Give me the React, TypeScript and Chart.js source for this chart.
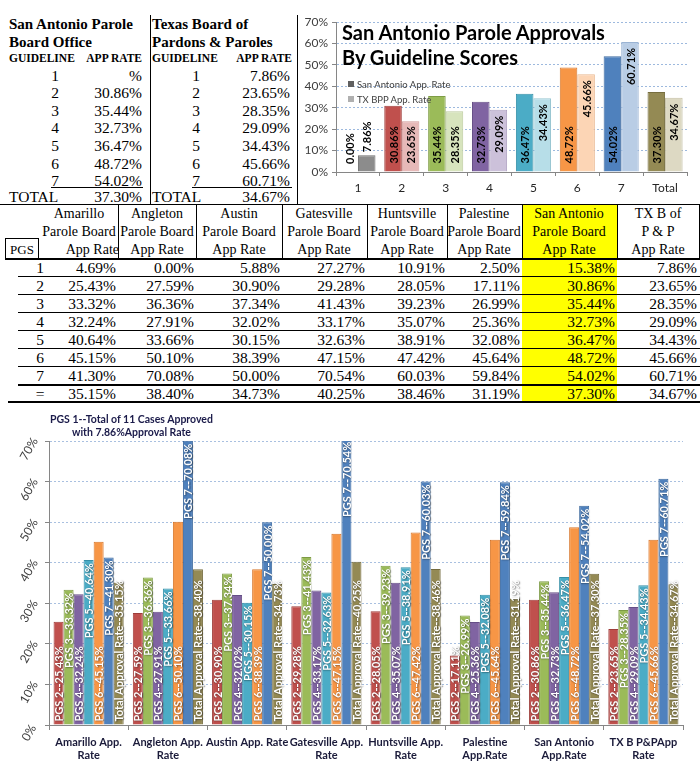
import React, { useEffect, useRef } from 'react';
import { Chart, registerables } from 'chart.js';
Chart.register(...registerables);

// ---------- DATA ----------
const guidelineNums = ['1', '2', '3', '4', '5', '6', '7'];
const saOfficeRates = ['%', '30.86%', '35.44%', '32.73%', '36.47%', '48.72%', '54.02%'];
const saOfficeTotal = '37.30%';
const txBoardRates = ['7.86%', '23.65%', '28.35%', '29.09%', '34.43%', '45.66%', '60.71%'];
const txBoardTotal = '34.67%';

const topCategories = ['1', '2', '3', '4', '5', '6', '7', 'Total'];
const topSanAntonio = [0.0, 30.86, 35.44, 32.73, 36.47, 48.72, 54.02, 37.3];
const topTxBpp = [7.86, 23.65, 28.35, 29.09, 34.43, 45.66, 60.71, 34.67];
const topTicks = [0, 10, 20, 30, 40, 50, 60, 70];

const pgsRowLabels = ['1', '2', '3', '4', '5', '6', '7', '='];
const headerLines = [
  ['Amarillo', 'Parole Board', 'App Rate'],
  ['Angleton', 'Parole Board', 'App Rate'],
  ['Austin', 'Parole Board', 'App Rate'],
  ['Gatesville', 'Parole Board', 'App Rate'],
  ['Huntsville', 'Parole Board', 'App Rate'],
  ['Palestine', 'Parole Board', 'App Rate'],
  ['San Antonio', 'Parole Board', 'App Rate'],
  ['TX B of', 'P & P', 'App Rate'],
];
// PGS 1..7 then total
const amarillo = [4.69, 25.43, 33.32, 32.24, 40.64, 45.15, 41.3, 35.15];
const angleton = [0.0, 27.59, 36.36, 27.91, 33.66, 50.1, 70.08, 38.4];
const austin = [5.88, 30.9, 37.34, 32.02, 30.15, 38.39, 50.0, 34.73];
const gatesville = [27.27, 29.28, 41.43, 33.17, 32.63, 47.15, 70.54, 40.25];
const huntsville = [10.91, 28.05, 39.23, 35.07, 38.91, 47.42, 60.03, 38.46];
const palestine = [2.5, 17.11, 26.99, 25.36, 32.08, 45.64, 59.84, 31.19];
const sanAntonio = [15.38, 30.86, 35.44, 32.73, 36.47, 48.72, 54.02, 37.3];
const txBpp = [7.86, 23.65, 28.35, 29.09, 34.43, 45.66, 60.71, 34.67];
const boards = [amarillo, angleton, austin, gatesville, huntsville, palestine, sanAntonio, txBpp];

const bottomCategories = [
  ['Amarillo App.', 'Rate'],
  ['Angleton App.', 'Rate'],
  'Austin App. Rate',
  ['Gatesville App.', 'Rate'],
  ['Huntsville App.', 'Rate'],
  ['Palestine', 'App.Rate'],
  ['San Antonio', 'App.Rate'],
  ['TX B P&PApp', 'Rate'],
];
const bottomSeriesNames = ['PGS 2', 'PGS 3', 'PGS 4', 'PGS 5', 'PGS 6', 'PGS 7', 'Total Approval Rate'];
const bottomSeriesIndex = [1, 2, 3, 4, 5, 6, 7];
const bottomTicks = [0, 10, 20, 30, 40, 50, 60, 70];

// ---------- STYLE ----------
const SERIF = '"Liberation Serif", "Times New Roman", serif';
const SANS = 'Lato, "Open Sans", sans-serif';
const topDark = ['#7F7F7F', '#C0504D', '#9BBB59', '#8064A2', '#4BACC6', '#F79646', '#4F81BD', '#948A54'];
const topLight = ['#8C8C8C', '#E6B9B8', '#D7E4BD', '#CCC1DA', '#B7DEE8', '#FCD5B5', '#B9CDE5', '#DDD9C3'];
const topLightEdge = ['#6F6F6F', '#D09A99', '#BCCB9E', '#B0A2C2', '#98C6D2', '#E9B890', '#9AB3D3', '#C4BFA4'];
const topDarkEdge = ['#5F5F5F', '#A03E3B', '#7E9C45', '#664E86', '#3690A8', '#D8782E', '#3D6A9F', '#776E40'];
const bottomColors = ['#C0504D', '#9BBB59', '#8064A2', '#4BACC6', '#F79646', '#4F81BD', '#948A54'];
const bottomEdges = ['#9E3D3A', '#7D9B44', '#654E86', '#348FA7', '#D7772D', '#3C699E', '#756C3F'];

const fmt = (v: number) => v.toFixed(2) + '%';

// ---------- helpers ----------
type TxtProps = { x: number; y: number; align?: 'left' | 'right' | 'center'; size?: number; bold?: boolean; font?: string; color?: string; children: any };
const Txt = ({ x, y, align = 'left', size = 15, bold = false, font = SERIF, color = '#000', children }: TxtProps) => {
  const style: any = {
    position: 'absolute', top: y - size, height: size * 2, lineHeight: `${size * 2}px`,
    fontSize: size, fontWeight: bold ? 700 : 400, fontFamily: font, color, whiteSpace: 'nowrap',
  };
  if (align === 'left') style.left = x;
  else if (align === 'right') { style.left = x - 300; style.width = 300; style.textAlign = 'right'; }
  else { style.left = x - 150; style.width = 300; style.textAlign = 'center'; }
  return <div style={style}>{children}</div>;
};
const HLine = ({ x1, x2, y, t = 1 }: any) => (
  <div style={{ position: 'absolute', left: x1, top: y, width: x2 - x1, height: t, background: '#000' }} />
);
const VLine = ({ x, y1, y2, t = 1 }: any) => (
  <div style={{ position: 'absolute', left: x, top: y1, width: t, height: y2 - y1, background: '#000' }} />
);

// ---------- plugins ----------
const barLabelPlugin = {
  id: 'barLabels',
  afterDatasetsDraw(chart: any, _args: any, opts: any) {
    const { ctx } = chart;
    chart.data.datasets.forEach((ds: any, di: number) => {
      const meta = chart.getDatasetMeta(di);
      meta.data.forEach((bar: any, i: number) => {
        const v = ds.data[i];
        const text = opts.format(ds, di, v);
        const { x, y, base } = bar.getProps(['x', 'y', 'base'], true);
        ctx.save();
        ctx.font = opts.font;
        ctx.fillStyle = opts.color;
        if (opts.shadow) {
          ctx.shadowColor = opts.shadow;
          ctx.shadowBlur = 1.5;
          ctx.shadowOffsetX = 0.5;
          ctx.shadowOffsetY = 0.5;
        }
        const w = ctx.measureText(text).width;
        const mode = opts.anchor(di, v, base - y, w);
        let start: number;
        if (mode === 'base') start = base - opts.baseOffset;
        else if (mode === 'end') start = y + opts.endOffset + w;
        else start = y - 3;
        ctx.translate(x, start);
        ctx.rotate(-Math.PI / 2);
        ctx.textAlign = 'left';
        ctx.textBaseline = 'middle';
        ctx.fillText(text, 0, 1);
        ctx.restore();
      });
    });
  },
};

const rotatedYTicksPlugin = {
  id: 'rotY',
  afterDraw(chart: any) {
    const s = chart.scales.y;
    const ctx = chart.ctx;
    ctx.save();
    ctx.font = '12px Lato';
    ctx.fillStyle = '#404040';
    ctx.textAlign = 'center';
    ctx.textBaseline = 'middle';
    bottomTicks.forEach((t) => {
      const py = s.getPixelForValue(t);
      ctx.save();
      ctx.translate(29, py + 8);
      ctx.rotate(-Math.PI / 3);
      ctx.fillText(t + '%', 0, 0);
      ctx.restore();
    });
    ctx.restore();
  },
};

// ---------- charts ----------
const TopChart = () => {
  const ref = useRef<HTMLCanvasElement>(null);
  useEffect(() => {
    const chart = new Chart(ref.current as HTMLCanvasElement, {
      type: 'bar',
      data: {
        labels: topCategories,
        datasets: [
          { label: 'San Antonio App. Rate', data: topSanAntonio, backgroundColor: topDark, borderColor: topDarkEdge, borderWidth: 1, categoryPercentage: 0.8, barPercentage: 1 },
          { label: 'TX BPP App. Rate', data: topTxBpp, backgroundColor: topLight, borderColor: topLightEdge, borderWidth: 1, categoryPercentage: 0.8, barPercentage: 1 },
        ],
      },
      options: {
        animation: false,
        responsive: false,
        maintainAspectRatio: false,
        layout: { padding: { top: 22, right: 13, left: 0, bottom: 0 } },
        plugins: {
          legend: { display: false },
          tooltip: { enabled: false },
          barLabels: {
            font: 'bold 11px Lato',
            color: '#000',
            baseOffset: 8,
            endOffset: 6,
            format: (_ds: any, _di: number, v: number) => fmt(v),
            anchor: (di: number, v: number, h: number, w: number) => {
              if (di === 0) return 'base';
              if (h < w + 10) return 'outside';
              return v < 29 ? 'base' : 'end';
            },
          },
        } as any,
        scales: {
          x: {
            grid: { display: true, drawOnChartArea: false, tickLength: 4, color: '#868686', tickColor: '#868686' },
            border: { color: '#868686' },
            ticks: { font: { family: 'Lato', size: 12 }, color: '#262626', padding: 5, maxRotation: 0, minRotation: 0 },
            afterFit: (s: any) => { s.height = 28; },
          },
          y: {
            min: 0, max: 70,
            afterBuildTicks: (s: any) => { s.ticks = topTicks.map((v) => ({ value: v })); },
            ticks: { callback: (v: any) => v + '%', font: { family: 'Lato', size: 12 }, color: '#404040', padding: 4 },
            grid: { color: '#9DB9DE', tickLength: 4, tickColor: '#868686', tickBorderDash: [] } as any,
            border: { color: '#868686', dash: [2, 2] },
            afterFit: (s: any) => { s.width = 36; },
          },
        },
      },
      plugins: [barLabelPlugin],
    });
    return () => chart.destroy();
  }, []);
  return <canvas ref={ref} width={400} height={200} style={{ position: 'absolute', left: 300, top: 0, width: 400, height: 200 }} />;
};

const BottomChart = () => {
  const ref = useRef<HTMLCanvasElement>(null);
  useEffect(() => {
    const datasets = bottomSeriesIndex.map((idx, k) => ({
      label: bottomSeriesNames[k],
      data: boards.map((b) => b[idx]),
      backgroundColor: bottomColors[k],
      borderColor: bottomEdges[k],
      borderWidth: 1,
      categoryPercentage: 0.885,
      barPercentage: 1,
    }));
    const chart = new Chart(ref.current as HTMLCanvasElement, {
      type: 'bar',
      data: { labels: bottomCategories as any, datasets },
      options: {
        animation: false,
        responsive: false,
        maintainAspectRatio: false,
        layout: { padding: { top: 31, right: 17, left: 0, bottom: 0 } },
        plugins: {
          legend: { display: false },
          tooltip: { enabled: false },
          barLabels: {
            font: 'bold 11px Lato',
            color: '#FFFFFF',
            shadow: 'rgba(0,0,0,0.55)',
            baseOffset: 3,
            endOffset: 3,
            format: (ds: any, _di: number, v: number) => ds.label + '--' + fmt(v),
            anchor: (di: number) => (di === 1 || di === 3 || di === 5 ? 'end' : 'base'),
          },
        } as any,
        scales: {
          x: {
            grid: { display: true, drawOnChartArea: false, tickLength: 5, color: '#868686', tickColor: '#868686' },
            border: { color: '#868686' },
            ticks: { font: { family: 'Lato', size: 11, weight: 'bold', lineHeight: 1.15 }, color: '#1B1B3A', padding: 6, maxRotation: 0, minRotation: 0, autoSkip: false },
            afterFit: (s: any) => { s.height = 56; },
          },
          y: {
            min: 0, max: 70,
            afterBuildTicks: (s: any) => { s.ticks = bottomTicks.map((v) => ({ value: v })); },
            ticks: { display: false },
            grid: { color: '#A9C0E0', tickLength: 4, tickColor: '#868686', tickBorderDash: [] } as any,
            border: { color: '#868686', dash: [2, 2] },
            afterFit: (s: any) => { s.width = 49; },
          },
        },
      },
      plugins: [barLabelPlugin, rotatedYTicksPlugin],
    });
    return () => chart.destroy();
  }, []);
  return <canvas ref={ref} width={700} height={371} style={{ position: 'absolute', left: 0, top: 410, width: 700, height: 371 }} />;
};

// ---------- layout ----------
const rowY = (i: number) => 75 + i * 17.6;

const TopTables = () => (
  <>
    <Txt x={9} y={24} bold size={15}>San Antonio Parole</Txt>
    <Txt x={9} y={42} bold size={15}>Board Office</Txt>
    <Txt x={9} y={58} bold size={11.5}>GUIDELINE</Txt>
    <Txt x={142} y={58} bold size={11.5} align="right">APP RATE</Txt>
    {guidelineNums.map((g, i) => (
      <React.Fragment key={'l' + g}>
        <Txt x={55} y={rowY(i)} align="center" size={15.5}>{g}</Txt>
        <Txt x={142} y={rowY(i)} align="right" size={15.5}>{saOfficeRates[i]}</Txt>
      </React.Fragment>
    ))}
    <HLine x1={51} x2={143} y={187} />
    <Txt x={9} y={196} size={15.5}>TOTAL</Txt>
    <Txt x={142} y={196} align="right" size={15.5}>{saOfficeTotal}</Txt>

    <VLine x={150} y1={15} y2={204} />
    <Txt x={152} y={24} bold size={15}>Texas Board of</Txt>
    <Txt x={152} y={42} bold size={15}>Pardons &amp; Paroles</Txt>
    <Txt x={152} y={58} bold size={11.5}>GUIDELINE</Txt>
    <Txt x={292} y={58} bold size={11.5} align="right">APP RATE</Txt>
    {guidelineNums.map((g, i) => (
      <React.Fragment key={'r' + g}>
        <Txt x={196} y={rowY(i)} align="center" size={15.5}>{g}</Txt>
        <Txt x={290} y={rowY(i)} align="right" size={15.5}>{txBoardRates[i]}</Txt>
      </React.Fragment>
    ))}
    <HLine x1={192} x2={292} y={187} />
    <Txt x={152} y={196} size={15.5}>TOTAL</Txt>
    <Txt x={290} y={196} align="right" size={15.5}>{txBoardTotal}</Txt>
    <VLine x={297} y1={15} y2={204} />
  </>
);

const colBounds = [118, 196, 282, 367, 447, 522, 617, 699];
const colCenters = [79, 157, 239, 324, 407, 484, 569, 658];

const MiddleTable = () => {
  const rows = pgsRowLabels.map((_, r) => 267 + r * 18);
  return (
    <>
      <div style={{ position: 'absolute', left: 522, top: 204, width: 95, height: 198, background: '#FFFF00' }} />
      <HLine x1={0} x2={700} y={204} />
      {colBounds.map((x) => (
        <VLine key={'v' + x} x={x} y1={204} y2={259} />
      ))}
      {headerLines.map((lines, c) => (
        <React.Fragment key={'h' + c}>
          {lines.map((t, k) =>
            c === 0 && k === 2 ? (
              <Txt key={k} x={119} y={214 + k * 18} align="right" size={14}>{t}</Txt>
            ) : (
              <Txt key={k} x={colCenters[c]} y={214 + k * 18} align="center" size={14}>{t}</Txt>
            )
          )}
        </React.Fragment>
      ))}
      <div style={{ position: 'absolute', left: 5, top: 238, width: 32, height: 21, border: '1px solid #000', borderBottom: 'none' }} />
      <Txt x={22} y={250} align="center" size={13}>PGS</Txt>
      <HLine x1={5} x2={700} y={258} t={2} />
      {pgsRowLabels.map((lab, r) => (
        <React.Fragment key={'r' + r}>
          <Txt x={40} y={rows[r]} align="center" size={15.5}>{lab}</Txt>
          {boards.map((b, c) => (
            <Txt key={c} x={colBounds[c] - 2} y={rows[r]} align="right" size={15.5}>{fmt(b[r])}</Txt>
          ))}
          {r < 7 && <HLine x1={18} x2={700} y={rows[r] + 9} t={r === 6 ? 1.5 : 1} />}
        </React.Fragment>
      ))}
      <HLine x1={8} x2={700} y={401} t={2} />
    </>
  );
};

const TopOverlay = () => (
  <>
    <Txt x={342} y={32} bold size={20} font={SANS}>San Antonio Parole Approvals</Txt>
    <Txt x={342} y={57} bold size={20} font={SANS}>By Guideline Scores</Txt>
    <div style={{ position: 'absolute', left: 348, top: 81, width: 6, height: 6, background: '#606060' }} />
    <Txt x={357} y={84} size={9.5} font={SANS} color="#404040">San Antonio App. Rate</Txt>
    <div style={{ position: 'absolute', left: 348, top: 96, width: 6, height: 6, background: '#B0B0B0' }} />
    <Txt x={357} y={99} size={9.5} font={SANS} color="#404040">TX BPP App. Rate</Txt>
  </>
);

const BottomOverlay = () => (
  <div style={{ position: 'absolute', left: 50, top: 413, fontFamily: SANS, fontWeight: 700, fontSize: 10.5, lineHeight: '13px', color: '#1B1B4A', textAlign: 'center', whiteSpace: 'nowrap' }}>
    <div>PGS 1--Total of 11 Cases Approved</div>
    <div>with 7.86%Approval Rate</div>
  </div>
);

export default function App() {
  return (
    <div style={{ position: 'absolute', left: 0, top: 0, width: 700, height: 781, overflow: 'hidden', background: '#fff' }}>
      <TopTables />
      <MiddleTable />
      <TopChart />
      <TopOverlay />
      <BottomChart />
      <BottomOverlay />
    </div>
  );
}
